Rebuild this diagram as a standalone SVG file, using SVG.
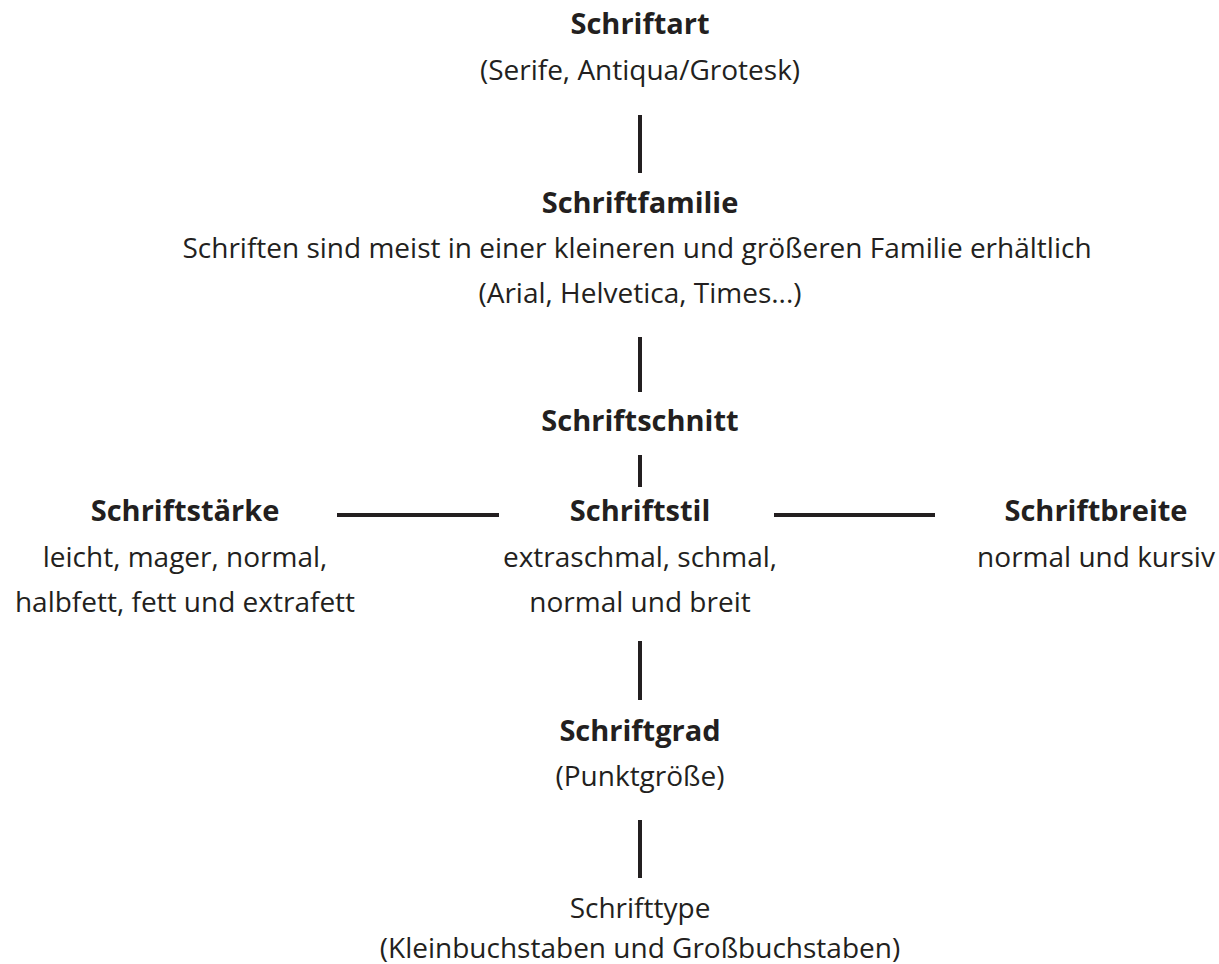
<svg xmlns="http://www.w3.org/2000/svg" width="1219" height="964" viewBox="0 0 1219 964">
<style>
text{font-family:"Open Sans","Noto Sans",sans-serif;font-size:28px;fill:#231f20;text-anchor:middle}
.b{font-weight:700;font-size:29px}
.c line{stroke:#231f20;stroke-width:4}
</style>
<rect width="1219" height="964" fill="#fff"/>
<g class="c" id="connectors">
<line x1="640" y1="115" x2="640" y2="173"/>
<line x1="640" y1="337" x2="640" y2="392"/>
<line x1="640" y1="455" x2="640" y2="487"/>
<line x1="337" y1="515" x2="499" y2="515"/>
<line x1="774" y1="515" x2="935" y2="515"/>
<line x1="640" y1="641" x2="640" y2="700"/>
<line x1="640" y1="820" x2="640" y2="878"/>
</g>
<g id="schriftart"><text class="b" x="640" y="34">Schriftart</text><text x="640" y="80">(Serife, Antiqua/Grotesk)</text></g>
<g id="schriftfamilie"><text class="b" x="640" y="213">Schriftfamilie</text><text x="637" y="258">Schriften sind meist in einer kleineren und größeren Familie erhältlich</text><text x="640" y="303">(Arial, Helvetica, Times...)</text></g>
<g id="schriftschnitt"><text class="b" x="640" y="431">Schriftschnitt</text></g>
<g id="schriftstaerke"><text class="b" x="185" y="521">Schriftstärke</text><text x="185" y="567">leicht, mager, normal,</text><text x="185" y="612">halbfett, fett und extrafett</text></g>
<g id="schriftstil"><text class="b" x="640" y="521">Schriftstil</text><text x="640" y="567">extraschmal, schmal,</text><text x="640" y="612">normal und breit</text></g>
<g id="schriftbreite"><text class="b" x="1096" y="521">Schriftbreite</text><text x="1096" y="567">normal und kursiv</text></g>
<g id="schriftgrad"><text class="b" x="640" y="741">Schriftgrad</text><text x="640" y="786">(Punktgröße)</text></g>
<g id="schrifttype"><text x="640" y="918">Schrifttype</text><text x="640" y="958">(Kleinbuchstaben und Großbuchstaben)</text></g>
</svg>
